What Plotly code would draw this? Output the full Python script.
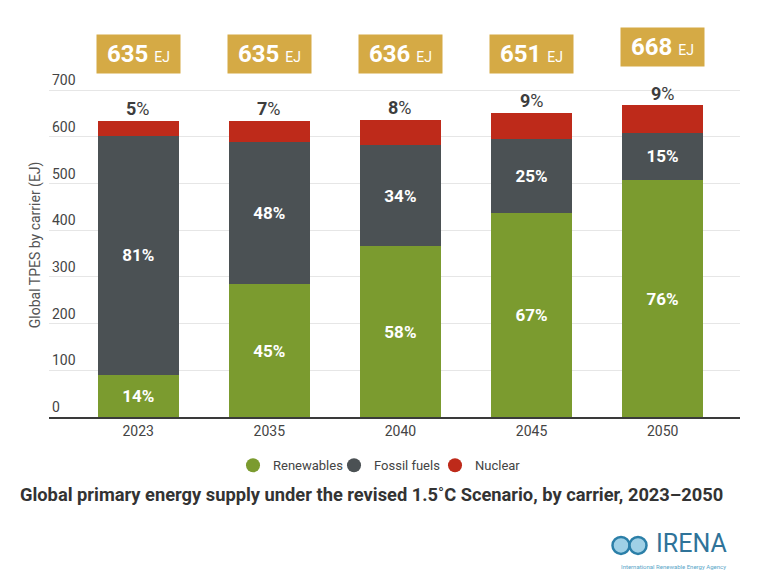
import plotly.graph_objects as go

# ---- data ----
years = ["2023", "2035", "2040", "2045", "2050"]
renewables = [90, 284, 366, 436, 507]
fossil = [512, 304, 216, 160, 102]
nuclear = [32, 46, 54, 55, 58]
totals = [635, 635, 636, 651, 668]
ren_pct = [14, 45, 58, 67, 76]
fossil_pct = [81, 48, 34, 25, 15]
nuclear_pct = [5, 7, 8, 9, 9]
series_names = ["Renewables", "Fossil fuels", "Nuclear"]
y_ticks = [0, 100, 200, 300, 400, 500, 600, 700]
title_text = "Global primary energy supply under the revised 1.5˚C Scenario, by carrier, 2023–2050"
y_title = "Global TPES by carrier (EJ)"

# ---- style ----
GREEN = "#7B9B2F"
GRAY = "#4B5154"
RED = "#BE2A1A"
GOLD = "#D5AA45"
TXT = "#3d3d3d"
FONT = "Roboto"

OFF = 8  # page body margin
W, H = 752, 572
ML, MR, MT, MB = 41, 20, 12, 163.3
PW, PH = W - ML - MR, H - MT - MB
Y_MAX = 850


def px_x(p):
    return (p - OFF - ML) / PW


def px_y(p):
    return (H - MB - (p - OFF)) / PH


fig = go.Figure()

inside_font = dict(family=FONT, size=17, color="white")
for name, vals, pcts, col in [
    (series_names[0], renewables, ren_pct, GREEN),
    (series_names[1], fossil, fossil_pct, GRAY),
]:
    fig.add_trace(go.Bar(
        x=years, y=vals, name=name, marker=dict(color=col, line=dict(width=0)),
        text=[f"<b>{p}%</b>" for p in pcts], textposition="inside",
        insidetextanchor="middle", textfont=inside_font, showlegend=False,
        hoverinfo="skip",
    ))
fig.add_trace(go.Bar(
    x=years, y=nuclear, name=series_names[2], marker=dict(color=RED, line=dict(width=0)),
    showlegend=False, hoverinfo="skip",
))

# legend entries with circular markers
for name, col in zip(series_names, [GREEN, GRAY, RED]):
    fig.add_trace(go.Scatter(
        x=[None], y=[None], mode="markers", name=name,
        marker=dict(color=col, size=14, symbol="circle"),
    ))

annotations = []
for i, yr in enumerate(years):
    top = renewables[i] + fossil[i] + nuclear[i]
    annotations.append(dict(
        x=i, y=top, xref="x", yref="y", yanchor="middle", yshift=12,
        text=f"<b>{nuclear_pct[i]}</b>%", showarrow=False,
        font=dict(family=FONT, size=18, color=TXT),
    ))
    annotations.append(dict(
        x=i, y=max(777, totals[i] + 124), xref="x", yref="y", yanchor="middle",
        text=f"<b>{totals[i]}</b> <span style='font-size:14px'>EJ</span>",
        showarrow=False, bgcolor=GOLD, width=83, height=38, borderpad=0,
        font=dict(family=FONT, size=24, color="white"),
    ))

annotations.append(dict(
    x=px_x(35), y=px_y(245), xref="paper", yref="paper", xanchor="center",
    yanchor="middle", text=y_title, textangle=-90, showarrow=False,
    font=dict(family=FONT, size=14, color="#555"),
))
annotations.append(dict(
    x=px_x(18), y=px_y(494), xref="paper", yref="paper", xanchor="left",
    yanchor="middle", text=f"<b>{title_text}</b>", showarrow=False,
    font=dict(family=FONT, size=18.3, color="#333"),
))
# IRENA logo text
annotations.append(dict(
    x=px_x(729), y=px_y(543), xref="paper", yref="paper", xanchor="right",
    yanchor="middle", text="IRENA", showarrow=False,
    font=dict(family=FONT, size=25, color="#2f7399"),
))
annotations.append(dict(
    x=px_x(728), y=px_y(566), xref="paper", yref="paper", xanchor="right",
    yanchor="middle", text="International Renewable Energy Agency", showarrow=False,
    font=dict(family=FONT, size=6, color="#5aa6c8"),
))

shapes = []
for cx in (621, 638):
    shapes.append(dict(
        type="circle", xref="paper", yref="paper",
        x0=px_x(cx - 8.5), x1=px_x(cx + 8.5), y0=px_y(545 + 8.5), y1=px_y(545 - 8.5),
        line=dict(color="#2b7fa8", width=2.5), fillcolor="#9fd0e6",
    ))

fig.update_layout(
    width=W, height=H, margin=dict(l=ML, r=MR, t=MT, b=MB),
    barmode="stack", bargap=0.38,
    plot_bgcolor="white", paper_bgcolor="white",
    font=dict(family=FONT, color="#444"),
    annotations=annotations, shapes=shapes,
    legend=dict(
        orientation="h", traceorder="normal", x=px_x(233), xanchor="left",
        y=px_y(465), yanchor="middle", entrywidth=56, entrywidthmode="pixels",
        font=dict(family=FONT, size=13, color="#444"),
        bgcolor="rgba(0,0,0,0)",
    ),
    xaxis=dict(
        type="category", range=[-0.68, 4.59], showline=True, linecolor="#3a3a3a",
        linewidth=2, ticks="", showgrid=False,
        tickfont=dict(family=FONT, size=14, color="#444"), fixedrange=True,
    ),
    yaxis=dict(
        range=[0, Y_MAX], tickvals=y_ticks, ticklabelposition="inside top",
        showgrid=True, gridcolor="#e6e6e6", gridwidth=1, zeroline=False,
        tickfont=dict(family=FONT, size=14, color="#444"), ticks="",
        fixedrange=True,
    ),
)

fig.write_html("out.html")
